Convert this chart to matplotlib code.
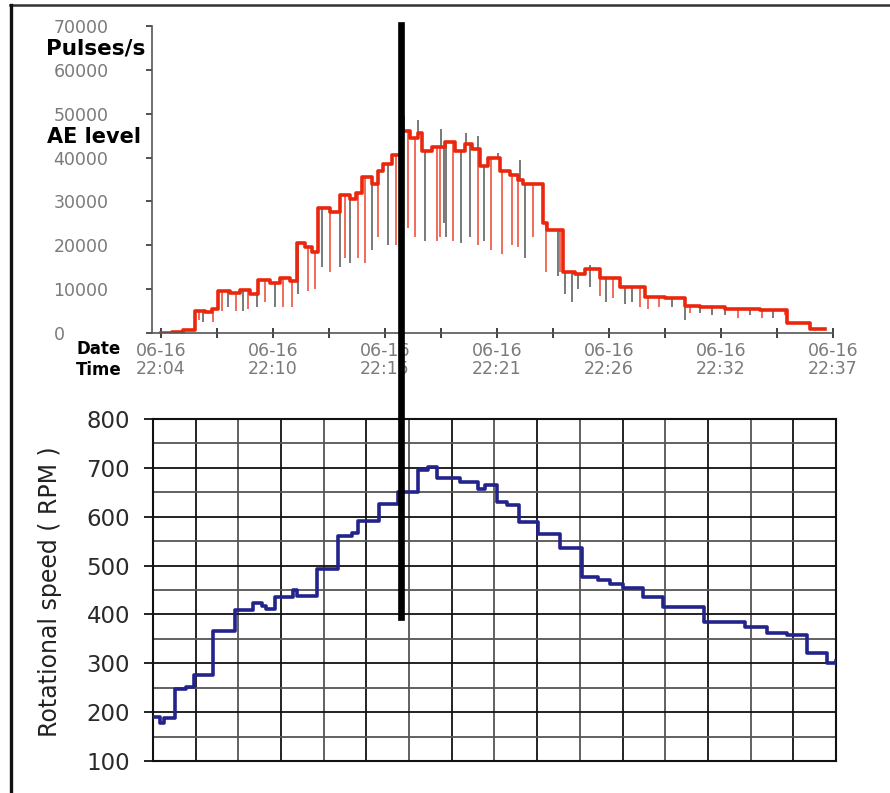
import numpy as np
import matplotlib
matplotlib.use("Agg")
import matplotlib.pyplot as plt
from matplotlib.lines import Line2D

# ---- data (minutes after 22:04) ----
ae_t = [0.00, 0.54, 1.08, 1.67, 2.16, 2.50, 2.80, 3.39, 3.88, 4.37, 4.76, 5.35,
        5.84, 6.34, 6.68, 7.07, 7.42, 7.71, 8.30, 8.79, 9.28, 9.58, 9.87, 10.36,
        10.66, 10.90, 11.35, 11.84, 12.23, 12.62, 12.82, 13.31, 13.95, 14.44,
        14.93, 15.27, 15.67, 16.06, 16.65, 17.14, 17.53, 17.78, 18.76, 18.96,
        19.74, 20.33, 20.83, 21.56, 22.54, 23.77, 24.75, 25.74, 26.47, 27.70,
        29.42, 30.75, 31.88, 32.61]
ae_v = [0, 300, 600, 5000, 4800, 5500, 9500, 9200, 9800, 9000, 12000, 11500,
        12500, 11800, 20500, 19500, 18500, 28500, 27500, 31500, 30500, 32000,
        35500, 34000, 37000, 38500, 40500, 46000, 44500, 45500, 41500, 42500,
        43500, 41500, 43000, 42000, 38000, 40000, 37000, 36000, 35000, 34000,
        25000, 23500, 14000, 13500, 14500, 12500, 10500, 8200, 8000, 6200, 6000,
        5500, 5200, 2200, 800, 800]

red_dip_t = [1.87, 2.55, 3.00, 3.68, 4.27, 5.11, 5.99, 6.43, 7.22, 7.56, 8.30,
             9.04, 9.68, 10.02, 10.66, 11.54, 12.13, 12.48, 13.56, 13.70, 14.34,
             15.57, 16.21, 16.75, 17.24, 17.53, 18.27, 18.91, 19.60, 21.56,
             22.20, 23.53, 23.92, 24.46, 25.98, 28.34, 29.52, 30.65]
red_dip_v = [3000, 2500, 5000, 5000, 5500, 7000, 6000, 6000, 9500, 10000, 14000,
             17000, 17000, 16000, 22000, 20000, 24000, 22000, 21000, 22000, 21000,
             20000, 19000, 18000, 20000, 19500, 22000, 14000, 14000, 8500,
             8000, 6000, 5500, 6000, 4500, 3500, 3500, 4000]

grey_dip_t = [2.06, 3.29, 4.03, 4.72, 5.60, 6.73, 7.91, 8.79, 9.28, 10.36, 11.15,
              12.97, 13.90, 14.00, 14.73, 15.18, 15.86, 17.88, 19.50, 19.84,
              20.19, 20.48, 21.07, 21.86, 22.79, 23.13, 25.10, 25.74, 26.47,
              27.06, 27.70, 28.93, 30.06]
grey_dip_v = [2500, 6000, 5000, 6000, 6000, 9000, 15000, 15000, 16000, 19000,
              20000, 21000, 25000, 22000, 20500, 22000, 21000, 17000, 13000, 9000,
              7000, 10000, 10500, 7000, 6500, 7000, 6000, 3000, 4500,
              4000, 4000, 4000, 3500]

peak_t = [11.94, 12.62, 13.75, 14.98, 15.57, 16.55, 17.63, 21.07]
peak_v = [49500, 48500, 46500, 45500, 45000, 41000, 39500, 15500]

rpm_t = [-0.39, -0.05, 0.15, 0.69, 1.23, 1.62, 2.55, 3.63, 4.52, 4.96, 5.16,
         5.60, 6.48, 6.68, 7.66, 8.69, 9.38, 9.68, 10.71, 11.64, 12.62, 13.11,
         13.56, 14.69, 15.57, 15.91, 16.50, 16.99, 17.58, 18.52, 19.60, 20.68,
         21.46, 22.05, 22.69, 23.67, 24.66, 26.67, 28.68, 29.76, 30.75, 31.73,
         32.71, 33.15]
rpm_v = [190, 178, 188, 247, 252, 277, 366, 410, 423, 418, 412,
         435, 450, 438, 493, 561, 566, 591, 626, 651, 696, 701,
         679, 671, 657, 664, 630, 625, 589, 565, 536, 477,
         470, 463, 454, 436, 415, 385, 374, 362, 358, 321,
         301, 305]

x_tick_labels = ["06-16\n22:04", "06-16\n22:10", "06-16\n22:15", "06-16\n22:21",
                 "06-16\n22:26", "06-16\n22:32", "06-16\n22:37"]

W, H = 890, 793
fig = plt.figure(figsize=(W / 100, H / 100), dpi=100)
plt.rcParams['font.family'] = ['DejaVu Sans']


def fx(px):
    return px / W


def fy(py):
    return 1 - py / H


# ---- top chart: AE level ----
ax1 = fig.add_axes([fx(152), fy(333), fx(833) - fx(152), fy(26) - fy(333)])
level_at = lambda t: np.array(ae_v)[np.searchsorted(ae_t, t, side='right') - 1]
ax1.vlines(grey_dip_t, grey_dip_v, level_at(grey_dip_t), color='#6e6e6e', lw=1.3)
ax1.vlines(red_dip_t, red_dip_v, level_at(red_dip_t), color='#f2604c', lw=1.3)
ax1.vlines(peak_t, level_at(peak_t), peak_v, color='#6e6e6e', lw=1.3)
ax1.plot(ae_t, ae_v, drawstyle='steps-post', color='#ea260c', lw=2.6)

ax1.set_xlim(-0.44, 33.0)
ax1.set_ylim(0, 70000)
ax1.spines['top'].set_visible(False)
ax1.spines['right'].set_visible(False)
for s in ['left', 'bottom']:
    ax1.spines[s].set_color('#555555')
    ax1.spines[s].set_linewidth(1.2)

ax1.set_yticks(np.arange(0, 70001, 10000))
ax1.tick_params(axis='y', direction='out', length=4, width=1.2, color='#333333',
                pad=67, labelsize=12.5, labelcolor='#7a7a7a')
for lab in ax1.get_yticklabels():
    lab.set_horizontalalignment('left')

xt = np.linspace(0, 33, 13)
ax1.set_xticks(xt)
ax1.set_xticklabels([x_tick_labels[i // 2] if i % 2 == 0 else '' for i in range(13)])
ax1.tick_params(axis='x', direction='inout', length=7, width=1.2, color='#222222',
                pad=3, labelsize=12.5, labelcolor='#7a7a7a')
for lab in ax1.get_xticklabels():
    lab.set_linespacing(1.0)

fig.text(fx(46), fy(48), "Pulses/s", fontsize=15.5, fontweight='bold', va='center')
fig.text(fx(47), fy(137), "AE level", fontsize=15, fontweight='bold', va='center')
fig.text(fx(76), fy(349), "Date", fontsize=12, fontweight='bold', va='center')
fig.text(fx(76), fy(370), "Time", fontsize=12, fontweight='bold', va='center')

# ---- bottom chart: rotational speed ----
ax2 = fig.add_axes([fx(153), fy(761), fx(836) - fx(153), fy(419) - fy(761)])
ax2.set_xlim(-0.39, 33.15)
ax2.set_ylim(100, 800)
vx = np.linspace(-0.39, 33.15, 17)
for i, x in enumerate(vx[1:-1]):
    ax2.axvline(x, color='#111111' if i % 2 == 0 else '#555555', lw=1.3, zorder=1)
for y in np.arange(150, 800, 50):
    ax2.axhline(y, color='#111111' if y % 100 == 0 else '#555555', lw=1.3, zorder=1)
ax2.plot(rpm_t, rpm_v, drawstyle='steps-post', color='#23238c', lw=2.6, zorder=3)

ax2.set_xticks([])
ax2.set_yticks(np.arange(100, 801, 100))
ax2.tick_params(axis='y', direction='out', length=6.5, width=1.3, color='#111111',
                pad=10, labelsize=16.5, labelcolor='#2a2a2a')
for s in ax2.spines.values():
    s.set_color('#111111')
    s.set_linewidth(1.5)
fig.text(fx(50), fy(592), "Rotational speed ( RPM )", fontsize=17, rotation=90,
         ha='center', va='center', color='#222222')

# ---- frame and marker line ----
fig.add_artist(Line2D([fx(10), 1.0], [fy(5), fy(5)], color='#333333', lw=1.8))
fig.add_artist(Line2D([fx(11), fx(11)], [fy(5), 0], color='#111111', lw=2.4))
fig.add_artist(Line2D([fx(401), fx(401)], [fy(25), fy(617)], color='black', lw=4.8))

fig.savefig("out.png", dpi=100)
